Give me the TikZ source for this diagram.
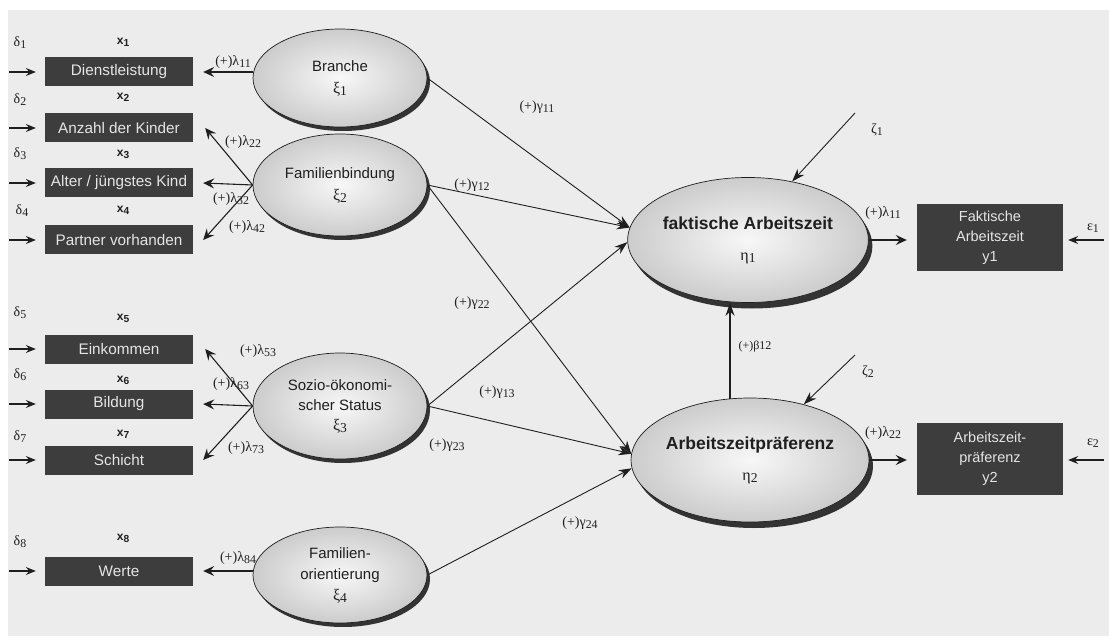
\documentclass[tikz,border=0pt]{standalone}
\usepackage{fontspec}
\setmainfont{Liberation Serif}
\setsansfont{Liberation Sans}
\usetikzlibrary{arrows.meta,shapes.geometric,shadows}
\definecolor{bg}{gray}{0.925}
\definecolor{boxfill}{gray}{0.24}
\definecolor{boxtext}{gray}{0.9}
\definecolor{ink}{gray}{0.12}
\newcommand\mysub[1]{\raisebox{-0.3ex}{\scalebox{0.85}{#1}}}
\begin{document}
\begin{tikzpicture}[x=1pt,y=-1pt,
  obs/.style={rectangle, fill=boxfill, text=boxtext, font=\sffamily\fontsize{15.3}{18}\selectfont,
    minimum width=148pt, minimum height=29pt, inner sep=0pt},
  obsr/.style={rectangle, fill=boxfill, text=boxtext, align=center,
    font=\sffamily\fontsize{14.5}{20}\selectfont, minimum width=146pt, inner sep=0pt},
  lat/.style={ellipse, draw=ink, line width=0.7pt, inner color=white!97!black, outer color=black!20,
    align=center, inner sep=0pt, text=ink,
    drop shadow={shadow xshift=3pt, shadow yshift=-4pt, fill=black!80, opacity=1},
    font=\sffamily\fontsize{15}{22}\selectfont, minimum width=174pt},
  endo/.style={lat, minimum width=220pt, minimum height=125pt,
    drop shadow={shadow xshift=4pt, shadow yshift=-6pt, fill=black!80, opacity=1},
    font=\sffamily\bfseries\fontsize{17.5}{31}\selectfont},
  lbl/.style={font=\rmfamily\fontsize{14}{16}\selectfont, inner sep=0pt, text=ink},
  xl/.style={font=\sffamily\bfseries\fontsize{12}{14}\selectfont, inner sep=0pt, text=ink},
  lam/.style={-{Stealth[length=11pt,width=10pt,inset=4pt]}, line width=1.1pt, draw=ink},
  gam/.style={-{Stealth[length=13pt,width=9pt]}, line width=0.9pt, draw=ink},
  inarr/.style={-{Stealth[length=10pt,width=8pt,inset=3.5pt]}, line width=1.1pt, draw=ink}
]
\useasboundingbox (0,0) rectangle (1109,639);
\fill[white] (0,0) rectangle (1109,639);
\fill[bg] (8,10) rectangle (1109,636);

% observed indicators (left)
\node[obs] (b1) at (119,72)  {Dienstleistung};
\node[obs] (b2) at (119,128) {Anzahl der Kinder};
\node[obs] (b3) at (119,183) {Alter / jüngstes Kind};
\node[obs] (b4) at (119,240) {Partner vorhanden};
\node[obs] (b5) at (119,349) {Einkommen};
\node[obs] (b6) at (119,404) {Bildung};
\node[obs] (b7) at (119,460) {Schicht};
\node[obs] (b8) at (119,571) {Werte};

% x labels
\node[xl] (x1) at (123,42)  {x\mysub{1}};
\node[xl] (x2) at (123,97)  {x\mysub{2}};
\node[xl] (x3) at (123,154) {x\mysub{3}};
\node[xl] (x4) at (123,210) {x\mysub{4}};
\node[xl] (x5) at (123,318) {x\mysub{5}};
\node[xl] (x6) at (123,380) {x\mysub{6}};
\node[xl] (x7) at (123,434) {x\mysub{7}};
\node[xl] (x8) at (123,538) {x\mysub{8}};

% delta labels
\node[lbl] (dl1) at (20,43)  {δ\mysub{1}};
\node[lbl] (dl2) at (20,100) {δ\mysub{2}};
\node[lbl] (dl3) at (20,154) {δ\mysub{3}};
\node[lbl] (dl4) at (22,211) {δ\mysub{4}};
\node[lbl] (dl5) at (20,313) {δ\mysub{5}};
\node[lbl] (dl6) at (20,375) {δ\mysub{6}};
\node[lbl] (dl7) at (20,437) {δ\mysub{7}};
\node[lbl] (dl8) at (20,542) {δ\mysub{8}};

% error inputs (left)
\foreach \i/\yy in {1/72,2/128,3/183,4/240,5/349,6/404,7/460,8/571}{
  \coordinate (ds\i) at (9,\yy);
  \draw[inarr, shorten >=9pt] (ds\i) -- (b\i.west);
}

% lambda labels (left, drawn before ellipses)
\node[lbl] (l11) at (233,62)  {(+)λ\mysub{11}};
\node[lbl] (l22) at (243,142) {(+)λ\mysub{22}};
\node[lbl] (l32) at (231,199) {(+)λ\mysub{32}};
\node[lbl] (l42) at (247,227) {(+)λ\mysub{42}};
\node[lbl] (l53) at (258,351) {(+)λ\mysub{53}};
\node[lbl] (l63) at (231,384) {(+)λ\mysub{63}};
\node[lbl] (l73) at (246,448) {(+)λ\mysub{73}};
\node[lbl] (l84) at (238,558) {(+)λ\mysub{84}};

% gamma / beta labels
\node[lbl] (g11) at (537,107) {(+)γ\mysub{11}};
\node[lbl] (g12) at (472,185) {(+)γ\mysub{12}};
\node[lbl] (g22) at (472,303) {(+)γ\mysub{22}};
\node[lbl] (g13) at (497,392) {(+)γ\mysub{13}};
\node[lbl] (g23) at (447,445) {(+)γ\mysub{23}};
\node[lbl] (g24) at (580,523) {(+)γ\mysub{24}};
\node[lbl, font=\rmfamily\fontsize{12}{14}\selectfont] (b12) at (755,347) {(+)β12};
\node[lbl] (z1l) at (877,130) {ζ\mysub{1}};
\node[lbl] (z2l) at (868,372) {ζ\mysub{2}};
\node[lbl] (l11r) at (883,213) {(+)λ\mysub{11}};
\node[lbl] (l22r) at (883,433) {(+)λ\mysub{22}};
\node[lbl] (e1l) at (1093,228) {ε\mysub{1}};
\node[lbl] (e2l) at (1093,443) {ε\mysub{2}};

% latent exogenous
\node[lat, minimum height=98pt]  (xi1) at (340,78)  {Branche\\{\rmfamily\fontsize{16}{20}\selectfont ξ\mysub{1}}};
\node[lat, minimum height=102pt] (xi2) at (340,185) {Familienbindung\\{\rmfamily\fontsize{16}{20}\selectfont ξ\mysub{2}}};
\node[lat, minimum height=106pt, font=\sffamily\fontsize{15}{20}\selectfont] (xi3) at (340,406) {Sozio-ökonomi-\\scher Status\\{\rmfamily\fontsize{16}{20}\selectfont ξ\mysub{3}}};
\node[lat, minimum height=96pt, font=\sffamily\fontsize{15}{21}\selectfont]  (xi4) at (340,575) {Familien-\\orientierung\\{\rmfamily\fontsize{16}{20}\selectfont ξ\mysub{4}}};

% latent endogenous
\node[endo] (eta1) at (748,240) {faktische Arbeitszeit\\{\rmfamily\mdseries\fontsize{16}{20}\selectfont η\mysub{1}}};
\node[endo, minimum width=222pt, minimum height=124pt] (eta2) at (750,460) {Arbeitszeitpräferenz\\{\rmfamily\mdseries\fontsize{16}{20}\selectfont η\mysub{2}}};

% observed indicators (right)
\node[obsr, minimum height=67pt] (y1b) at (990,238) {Faktische\\Arbeitszeit\\y1};
\node[obsr, minimum height=72pt] (y2b) at (990,459) {Arbeitszeit-\\präferenz\\y2};

% lambda arrows (left)
\draw[lam, shorten >=10pt] (xi1.west |- b1.east) -- (b1.east);
\draw[lam] (xi2.west) -- ([xshift=12pt]b2.east);
\draw[lam] (xi2.west) -- ([xshift=10pt]b3.east);
\draw[lam] (xi2.west) -- ([xshift=10pt]b4.east);
\draw[lam] (xi3.west) -- ([xshift=12pt]b5.east);
\draw[lam] (xi3.west) -- ([xshift=10pt]b6.east);
\draw[lam] (xi3.west) -- ([xshift=10pt]b7.east);
\draw[lam, shorten >=10pt] (xi4.west |- b8.east) -- (b8.east);

% structural paths
\draw[gam] (xi1.east) -- (eta1.174);
\draw[gam] (xi2.east) -- (eta1.174);
\draw[gam] (xi3.east) -- (eta1.181);
\draw[gam] (xi2.east) -- (eta2.177);
\draw[gam] (xi3.east) -- (eta2.177);
\draw[gam] (xi4.east) -- (eta2.184);
\draw[gam, line width=1.3pt] (eta2.108) -- (eta2.108 |- eta1.south);

% disturbances
\coordinate (z1) at (855,113);
\coordinate (z2) at (855,355);
\draw[gam] (z1) -- (eta1.53);
\draw[gam] (z2) -- (eta2.46);

% lambda arrows (right)
\draw[lam, shorten >=10pt] (eta1.east) -- (eta1.east -| y1b.west);
\draw[lam, shorten >=10pt] (eta2.east) -- (eta2.east -| y2b.west);

% epsilon inputs
\coordinate (es1) at (1104,240);
\coordinate (es2) at (1104,460);
\draw[inarr, shorten >=5pt] (es1) -- (es1 -| y1b.east);
\draw[inarr, shorten >=5pt] (es2) -- (es2 -| y2b.east);
\end{tikzpicture}
\end{document}
